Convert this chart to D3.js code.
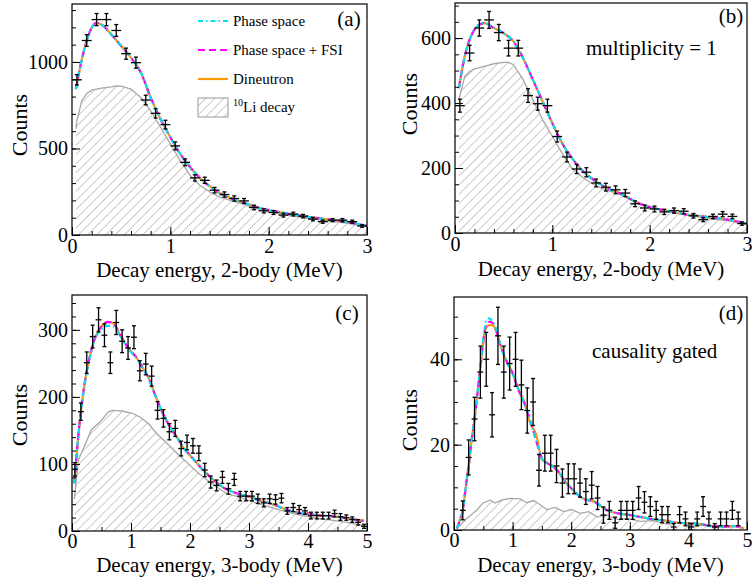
<!DOCTYPE html>
<html><head><meta charset="utf-8">
<script src="https://cdn.jsdelivr.net/npm/d3@7"></script>
<style>
body{margin:0;background:#fff}
svg{display:block}
text{font-family:'Liberation Serif','Times New Roman',serif;fill:#000}
</style>
</head><body>
<svg id="chart" width="753" height="580"></svg>
<script>
// ---------- Panel (a): 2-body, all ----------
const aX = [0.05,0.15,0.25,0.35,0.45,0.55,0.65,0.75,0.85,0.95,1.05,1.15,1.25,1.35,1.45,1.55,1.65,1.75,1.85,1.95,2.05,2.15,2.25,2.35,2.45,2.55,2.65,2.75,2.85,2.95];
const aCounts = [897,1124,1245,1245,1182,1048,996,780,703,638,515,420,330,316,259,234,211,197,159,140,130,115,121,109,92,77,86,86,77,52];
const aErr = [30,34,35,35,34,32,32,28,27,25,23,20,18,18,16,15,15,14,13,12,11,11,11,10,10,9,9,9,9,7];
const aFitX = [0.04,0.1,0.15,0.2,0.25,0.3,0.4,0.5,0.6,0.7,0.8,0.9,1.0,1.1,1.2,1.3,1.4,1.5,1.6,1.7,1.8,1.9,2.0,2.2,2.4,2.6,2.8,3.0];
const aPhaseSpace = [843,1015,1124,1197,1226,1216,1159,1092,1025,939,795,670,565,469,393,331,282,243,216,195,176,157,144,123,105,90,75,52];
const aPhaseFSI = [843,1015,1124,1197,1226,1216,1159,1092,1025,939,795,670,565,469,393,331,282,243,216,195,176,157,144,123,105,90,75,52];
const aDineutron = [843,1015,1124,1197,1226,1216,1159,1092,1025,939,795,670,565,469,393,331,282,243,216,195,176,157,144,123,105,90,75,52];
const aBgX = [0.04,0.05,0.1,0.15,0.2,0.3,0.4,0.45,0.5,0.6,0.7,0.8,0.9,1.0,1.1,1.2,1.3,1.4,1.5,1.6,1.7,1.8,1.9,2.0,2.2,2.4,2.6,2.8,3.0];
const aBg = [613,661,776,818,837,849,856,862,860,843,795,718,623,527,431,345,287,249,220,201,186,167,148,134,115,96,82,67,48];

// ---------- Panel (b): 2-body, multiplicity = 1 ----------
const bX = [0.05,0.15,0.25,0.35,0.45,0.55,0.65,0.75,0.85,0.95,1.05,1.15,1.25,1.35,1.45,1.55,1.65,1.75,1.85,1.95,2.05,2.15,2.25,2.35,2.45,2.55,2.65,2.75,2.85,2.95];
const bCounts = [392,554,631,656,617,569,569,423,398,392,297,234,197,187,154,141,133,123,90,77,74,65,69,67,53,41,51,58,51,29];
const bErr = [20,24,25,26,25,24,24,21,20,20,17,15,14,14,12,12,12,11,9,9,9,8,8,8,7,6,7,8,7,5];
const bFitX = [0.04,0.1,0.15,0.2,0.25,0.3,0.4,0.5,0.6,0.7,0.8,0.9,1.0,1.1,1.2,1.3,1.4,1.5,1.6,1.7,1.8,1.9,2.0,2.2,2.4,2.6,2.8,3.0];
const bPhaseSpace = [446,544,595,626,641,646,631,615,590,538,472,405,338,277,231,195,169,149,133,121,105,90,80,67,56,49,41,29];
const bPhaseFSI = [446,544,595,626,641,646,631,615,590,538,472,405,338,277,231,195,169,149,133,121,105,90,80,67,56,49,41,29];
const bDineutron = [446,544,595,626,641,646,631,615,590,538,472,405,338,277,231,195,169,149,133,121,105,90,80,67,56,49,41,29];
const bBgX = [0.04,0.1,0.15,0.2,0.3,0.4,0.5,0.55,0.6,0.7,0.8,0.9,1.0,1.1,1.2,1.3,1.4,1.5,1.6,1.7,1.8,1.9,2.0,2.2,2.4,2.6,2.8,3.0];
const bBg = [410,482,497,505,513,521,525,525,518,472,410,349,297,246,200,174,154,138,128,118,103,90,80,65,54,44,38,26];

// ---------- Panel (c): 3-body, all ----------
const cX = [0.05,0.15,0.25,0.35,0.45,0.55,0.65,0.75,0.85,0.95,1.05,1.15,1.25,1.35,1.45,1.55,1.65,1.75,1.85,1.95,2.05,2.15,2.25,2.35,2.45,2.55,2.65,2.75,2.85,2.95,3.05,3.15,3.25,3.35,3.45,3.55,3.65,3.75,3.85,3.95,4.05,4.15,4.25,4.35,4.45,4.55,4.65,4.75,4.85,4.95];
const cCounts = [92,178,251,290,315,292,251,311,283,273,289,239,249,231,180,168,148,153,123,132,127,116,91,73,68,80,63,77,52,52,52,48,42,48,47,49,30,35,32,30,23,23,23,23,26,21,20,17,13,7];
const cErr = [10,13,16,17,18,17,16,18,17,17,17,15,16,15,13,13,12,12,11,11,11,11,10,9,8,9,8,9,7,7,7,7,6,7,7,7,5,6,6,5,5,5,5,5,5,5,4,4,4,3];
const cFitX = [0.04,0.1,0.2,0.3,0.4,0.5,0.6,0.7,0.8,0.9,1.0,1.1,1.2,1.3,1.4,1.5,1.6,1.7,1.8,1.9,2.0,2.2,2.4,2.6,2.8,3.0,3.2,3.4,3.6,3.8,4.0,4.2,4.4,4.6,4.8,4.95];
const cPhaseSpace = [71,136,210,258,288,301,306,305,293,279,267,257,243,228,205,183,165,150,137,123,113,93,76,63,56,51,45,40,33,28,26,23,22,20,17,15];
const cPhaseFSI = [71,136,212,260,290,305,312,310,295,280,268,258,243,228,205,183,165,150,137,123,113,93,76,63,56,51,45,40,33,28,26,23,22,20,17,15];
const cDineutron = [71,136,212,260,290,305,312,310,295,280,268,258,243,228,205,183,165,150,137,123,113,93,76,63,56,51,45,40,33,28,26,23,22,20,17,15];
const cBgX = [0.04,0.11,0.33,0.48,0.62,0.70,0.84,1.01,1.15,1.30,1.44,1.61,1.78,1.95,2.12,2.29,2.45,2.62,2.85,3.08,3.30,3.53,3.76,3.98,4.21,4.43,4.66,4.94];
const cBg = [48,106,151,163,178,180,179,176,170,160,145,131,116,102,88,76,66,56,50,43,37,31,26,22,18,16,13,8];

// ---------- Panel (d): 3-body, causality gated ----------
const dX = [0.15,0.25,0.35,0.45,0.55,0.65,0.75,0.85,0.95,1.05,1.15,1.25,1.35,1.45,1.55,1.65,1.75,1.85,1.95,2.05,2.15,2.25,2.35,2.45,2.55,2.65,2.75,2.85,2.95,3.05,3.15,3.25,3.35,3.45,3.55,3.65,3.75,3.85,3.95,4.05,4.15,4.25,4.35,4.45,4.55,4.65,4.75,4.85];
const dCounts = [4.6,17,26,37,40,27,45.5,37,39,40,34,28,30,14,18,18,15,11,12,12,11,9,10.5,7.5,3.5,4.6,1.7,4.6,4.6,4.6,7.5,6.5,5.5,4.6,3.6,3.6,0.7,3.6,2.6,0.7,2.6,5.5,2.6,0.7,2.6,2.6,4.6,2.6];
const dErr = [2.2,4.1,5.1,6.1,6.3,5.2,6.7,6.1,6.2,6.3,5.8,5.3,5.5,3.7,4.2,4.2,3.9,3.3,3.5,3.5,3.3,3,3.2,2.7,1.9,2.1,1.3,2.1,2.1,2.1,2.7,2.5,2.3,2.1,1.9,1.9,0.8,1.9,1.6,0.8,1.6,2.3,1.6,0.8,1.6,1.6,2.1,1.6];
const dFitX = [0.05,0.1,0.15,0.2,0.25,0.3,0.35,0.4,0.45,0.5,0.55,0.6,0.65,0.7,0.75,0.8,0.9,1.0,1.1,1.2,1.3,1.4,1.5,1.6,1.7,1.8,1.9,2.0,2.2,2.4,2.6,2.8,3.0,3.2,3.4,3.6,3.8,4.0,4.2,4.4,4.6,4.8,4.95];
const dPhaseSpace = [0.4,2.3,4.7,10,15,21,26,32,38,44.8,49,49.6,49,47.8,45.3,43,39.5,36.7,32.8,29.7,25.8,21,16.8,15.6,14.8,13.3,11.3,9.8,7.4,6.6,4.7,3.9,3.5,3,2.5,2.2,1.7,1.6,1.4,0.9,0.8,0.9,0.4];
const dPhaseFSI = [0.4,2.3,4.7,10,15,21,26,32,38,44.5,48,48.8,48.6,47.7,45.3,43,39.5,36.7,32.8,29.7,25.8,21,16.8,15.6,14.8,13.3,11.3,9.8,7.4,6.6,4.7,3.9,3.5,3,2.5,2.2,1.7,1.6,1.4,0.9,0.8,0.9,0.4];
const dDineutron = [0.4,2.3,4.7,10,15,21,26,32,38,44,47.5,48,48,47.3,45.3,43,39.5,36.7,33,30,25,22.5,16.5,15.6,14.8,13.3,11.3,9.8,7.4,6.6,4.7,3.9,3.5,3,2.5,2.2,1.7,1.6,1.4,0.9,0.8,0.9,0.4];
const dBgX = [0.05,0.22,0.39,0.5,0.62,0.7,0.81,0.96,1.13,1.24,1.36,1.47,1.58,1.73,1.87,2.01,2.15,2.3,2.44,2.61,2.78,2.95,3.18,3.41,3.63,3.86,4.09,4.32,4.54,4.77,4.94];
const dBg = [0.4,2.7,4.7,6.4,7.0,6.3,7.0,7.4,7.3,6.4,6.9,5.9,4.8,5.3,4.3,4.8,3.9,4.3,3.1,3.5,2.5,2.7,2.0,2.2,1.4,1.6,0.9,1.2,0.8,0.9,0.4];

// ---------- Axis tick values & texts ----------
const aYTicks = [0,500,1000], bYTicks = [0,200,400,600], cYTicks = [0,100,200,300], dYTicks = [0,20,40];
const xTicks2 = [0,1,2,3], xTicks3 = [0,1,2,3,4,5];
const xTitle2 = "Decay energy, 2-body (MeV)", xTitle3 = "Decay energy, 3-body (MeV)", yTitle = "Counts";
const legendLabels = ["Phase space","Phase space + FSI","Dineutron","Li decay"];

// ---------- Layout ----------
const svg = d3.select('#chart');
const defs = svg.append('defs');
defs.append('pattern').attr('id','hatch').attr('patternUnits','userSpaceOnUse')
  .attr('width',6.5).attr('height',6.5).attr('patternTransform','rotate(45)')
  .append('line').attr('x1',0).attr('y1',-1).attr('x2',0).attr('y2',7.5)
  .attr('stroke','#7a7a7a').attr('stroke-width',0.8);

const COL = {ps:'#00e0f0', fsi:'#ff00ff', dn:'#ff9a00'};
const FONT = "'Liberation Serif','Times New Roman',serif";

const panels = [
  {id:'a', left:72, right:367, top:4, bottom:235, xmax:3, ymax:1335, yTicks:aYTicks, yMinor:100, xTicks:xTicks2, xMinor:0.2,
   pts:[aX,aCounts,aErr], fitX:aFitX, ps:aPhaseSpace, fsi:aPhaseFSI, dn:aDineutron, bgX:aBgX, bg:aBg, title:xTitle2, tag:'(a)', tagX:349, tagY:26, yTitleX:27, yTitleY:125, xLabPad:4, xTitleY:277},
  {id:'b', left:455, right:747, top:3, bottom:233, xmax:3, ymax:708, yTicks:bYTicks, yMinor:50, xTicks:xTicks2, xMinor:0.2,
   pts:[bX,bCounts,bErr], fitX:bFitX, ps:bPhaseSpace, fsi:bPhaseFSI, dn:bDineutron, bgX:bBgX, bg:bBg, title:xTitle2, tag:'(b)', tagX:731, tagY:23, yTitleX:417, yTitleY:104, xLabPad:4, xTitleY:276,
   note:'multiplicity = 1', noteX:586, noteY:55},
  {id:'c', left:72, right:367, top:295, bottom:531, xmax:5, ymax:352, yTicks:cYTicks, yMinor:20, xTicks:xTicks3, xMinor:0.5,
   pts:[cX,cCounts,cErr], fitX:cFitX, ps:cPhaseSpace, fsi:cPhaseFSI, dn:cDineutron, bgX:cBgX, bg:cBg, title:xTitle3, tag:'(c)', tagX:347, tagY:320, yTitleX:27, yTitleY:415, xLabPad:3, xTitleY:572},
  {id:'d', left:454, right:747, top:297, bottom:530, xmax:5, ymax:54.6, yTicks:dYTicks, yMinor:5, xTicks:xTicks3, xMinor:0.5,
   pts:[dX,dCounts,dErr], fitX:dFitX, ps:dPhaseSpace, fsi:dPhaseFSI, dn:dDineutron, bgX:dBgX, bg:dBg, title:xTitle3, tag:'(d)', tagX:731, tagY:320, yTitleX:417, yTitleY:420, xLabPad:3, xTitleY:572,
   note:'causality gated', noteX:592, noteY:358}
];

function drawPanel(p) {
  const x = d3.scaleLinear().domain([0,p.xmax]).range([p.left,p.right]);
  const y = d3.scaleLinear().domain([0,p.ymax]).range([p.bottom,p.top]);
  const g = svg.append('g');
  defs.append('clipPath').attr('id','clip'+p.id).append('rect')
    .attr('x',p.left).attr('y',p.top).attr('width',p.right-p.left).attr('height',p.bottom-p.top);
  const plot = g.append('g').attr('clip-path','url(#clip'+p.id+')');

  // 10Li decay hatched area
  const bgPts = p.bgX.map((v,i)=>[v,p.bg[i]]);
  plot.append('path').datum(bgPts)
    .attr('d', d3.area().x(d=>x(d[0])).y0(y(0)).y1(d=>y(d[1])))
    .attr('fill','url(#hatch)');
  plot.append('path').datum(bgPts)
    .attr('d', d3.line().x(d=>x(d[0])).y(d=>y(d[1])))
    .attr('fill','none').attr('stroke','#a8a8a8').attr('stroke-width',1.3);

  // model curves
  const ln = d3.line().x(d=>x(d[0])).y(d=>y(d[1])).curve(d3.curveMonotoneX);
  const series = [
    {vals:p.dn, color:COL.dn, dash:null},
    {vals:p.fsi, color:COL.fsi, dash:'7,4'},
    {vals:p.ps, color:COL.ps, dash:'5,3,1.5,3'}
  ];
  series.forEach(s=>{
    plot.append('path').datum(p.fitX.map((v,i)=>[v,s.vals[i]]))
      .attr('d',ln).attr('fill','none').attr('stroke',s.color)
      .attr('stroke-width',2.2).attr('stroke-dasharray',s.dash);
  });

  // data points with error bars
  const [px,py,pe] = p.pts;
  const pg = plot.append('g').attr('stroke','#000').attr('stroke-width',1.3);
  px.forEach((v,i)=>{
    const cx = x(v), cy = y(py[i]);
    pg.append('line').attr('x1',x(v-0.05)).attr('x2',x(v+0.05)).attr('y1',cy).attr('y2',cy);
    const yt = y(py[i]+pe[i]), yb = y(Math.max(0,py[i]-pe[i]));
    pg.append('line').attr('x1',cx).attr('x2',cx).attr('y1',yt).attr('y2',yb);
    pg.append('line').attr('x1',cx-2).attr('x2',cx+2).attr('y1',yt).attr('y2',yt);
    pg.append('line').attr('x1',cx-2).attr('x2',cx+2).attr('y1',yb).attr('y2',yb);
  });

  // frame
  g.append('rect').attr('x',p.left).attr('y',p.top).attr('width',p.right-p.left).attr('height',p.bottom-p.top)
    .attr('fill','none').attr('stroke','#000').attr('stroke-width',1.2);

  // axes (major with labels, minor without)
  const yMinorVals = d3.range(0, p.ymax+1e-9, p.yMinor);
  g.append('g').attr('transform',`translate(${p.left},0)`)
    .call(d3.axisLeft(y).tickValues(p.yTicks).tickSize(-8).tickPadding(4).tickFormat(d3.format('d')));
  const ym = g.append('g').attr('transform',`translate(${p.left},0)`)
    .call(d3.axisLeft(y).tickValues(yMinorVals).tickSize(-4).tickFormat(''));
  ym.selectAll('text').remove();
  const xMinorVals = d3.range(0, p.xmax+1e-9, p.xMinor);
  g.append('g').attr('transform',`translate(0,${p.bottom})`)
    .call(d3.axisBottom(x).tickValues(p.xTicks).tickSize(-8).tickPadding(p.xLabPad).tickFormat(d3.format('d')));
  const xm = g.append('g').attr('transform',`translate(0,${p.bottom})`)
    .call(d3.axisBottom(x).tickValues(xMinorVals).tickSize(-4).tickFormat(''));
  xm.selectAll('text').remove();
  g.selectAll('.domain').remove();
  g.selectAll('.tick line').attr('stroke','#000').attr('stroke-width',1);
  g.selectAll('.tick text').attr('font-size',20).attr('font-family',FONT);

  // titles
  g.append('text').attr('x',(p.left+p.right)/2).attr('y',p.xTitleY).attr('text-anchor','middle')
    .attr('font-size',21).text(p.title);
  g.append('text').attr('transform',`translate(${p.yTitleX},${p.yTitleY}) rotate(-90)`)
    .attr('text-anchor','middle').attr('font-size',22).text(yTitle);
  g.append('text').attr('x',p.tagX).attr('y',p.tagY).attr('text-anchor','middle').attr('font-size',21).text(p.tag);
  if (p.note) g.append('text').attr('x',p.noteX).attr('y',p.noteY).attr('font-size',21).text(p.note);
}
panels.forEach(drawPanel);

// legend in panel (a)
const lg = svg.append('g');
const lx0 = 198, lx1 = 228, tx = 233;
const legendRows = [
  {y:21, color:COL.ps, dash:'5,3,1.5,3'},
  {y:50, color:COL.fsi, dash:'7,4'},
  {y:79, color:COL.dn, dash:null}
];
legendRows.forEach((r,i)=>{
  lg.append('line').attr('x1',lx0).attr('x2',lx1).attr('y1',r.y).attr('y2',r.y)
    .attr('stroke',r.color).attr('stroke-width',2.2).attr('stroke-dasharray',r.dash);
  lg.append('text').attr('x',tx).attr('y',r.y+5).attr('font-size',15).text(legendLabels[i]);
});
lg.append('rect').attr('x',lx0).attr('y',98).attr('width',lx1-lx0).attr('height',19)
  .attr('fill','url(#hatch)').attr('stroke','#a8a8a8').attr('stroke-width',1.2);
const lt = lg.append('text').attr('x',tx).attr('y',112).attr('font-size',15);
lt.append('tspan').attr('font-size',10).attr('dy',-6).text('10');
lt.append('tspan').attr('dy',6).text(legendLabels[3]);
</script>
</body></html>
